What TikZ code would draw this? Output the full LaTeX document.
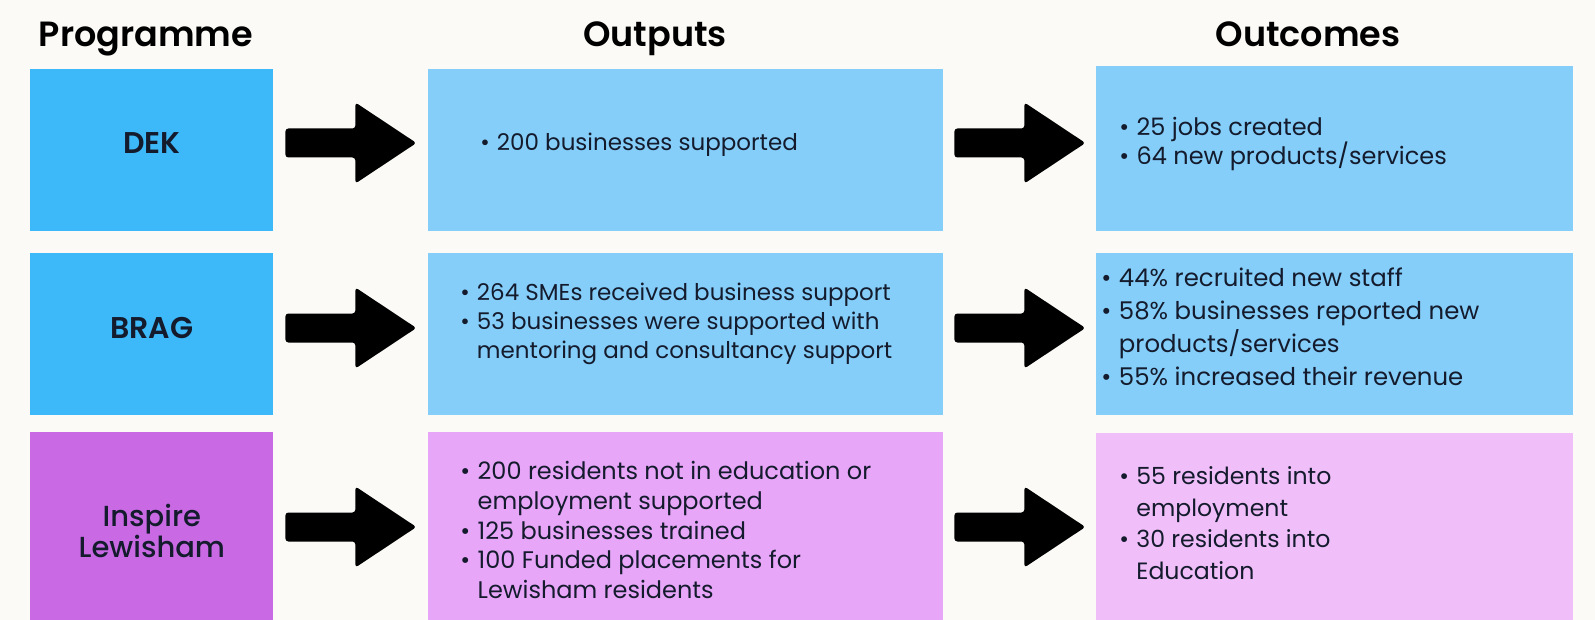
\documentclass[tikz,border=0pt]{standalone}
\usepackage{fontspec}
\setmainfont{Poppins}[BoldFont={Poppins SemiBold}]
\newfontfamily\mediumfont{Poppins Medium}
\usepackage{tikz}
\usetikzlibrary{calc}

\definecolor{pagebg}{HTML}{FBFAF6}
\definecolor{textdark}{HTML}{141B2D}
\definecolor{progblue}{HTML}{3DB9FA}
\definecolor{paleblue}{HTML}{85CEF9}
\definecolor{progpurple}{HTML}{C96AE4}
\definecolor{midpurple}{HTML}{E8A6F9}
\definecolor{palepurple}{HTML}{F0BEF9}

\tikzset{
    panel/.style={draw=none, inner sep=0pt, anchor=north west},
    heading/.style={font=\fontsize{17.5}{20}\selectfont\bfseries, text=black, anchor=base, inner sep=0pt},
    proglabel/.style={font=\fontsize{15}{17.5}\selectfont\bfseries, text=textdark, align=center, inner sep=0pt},
    bullets/.style={font=\fontsize{11.5}{14.5}\selectfont, text=textdark, align=left, anchor=west, inner sep=0pt},
    arrowfill/.style={fill=black, rounded corners=1.5pt}
}

\newcommand*{\Item}{\makebox[0.72em][l]{\textbullet}}
\newcommand*{\Cont}{\hspace*{0.72em}}

\newcommand*{\PanelBox}[6]{% #1 = colour, #2 = name, #3 = x, #4 = top, #5 = width, #6 = height
\node [panel, fill=#1, minimum width=#5*0.5pt, minimum height=#6*0.5pt] (#2) at (#3,#4) {};
}

\newcommand*{\BlockArrow}[3]{% #1 = from, #2 = to, #3 = row
\coordinate (mid) at ($(#1.east)!0.5!(#2.west)$);
\fill [arrowfill] ($(mid |- #3)+(-65.5,-14.5)$) -- ++(70,0) -- ++(0,-26)
    -- ++(61,40.5) -- ++(-61,40.5) -- ++(0,-26) -- ++(-70,0) -- cycle;
}

\begin{document}
\begin{tikzpicture}[x=0.5pt, y=-0.5pt]

            \useasboundingbox (0,0) rectangle (1595,620);
            \fill [pagebg] (0,0) rectangle (1595,620);

            \node [heading] (hprog) at (146,47) {Programme};
            \node [heading] (hout) at (655,47) {Outputs};
            \node [heading] (hres) at (1308,47) {Outcomes};

            \coordinate (r1) at (0,143);
            \coordinate (r2) at (0,328);
            \coordinate (r3) at (0,527);

            % boxes
            \PanelBox{progblue}{dek}{30}{69}{243}{162}
            \PanelBox{paleblue}{dekout}{428}{69}{515}{162}
            \PanelBox{paleblue}{dekres}{1096}{66}{477}{165}
            \PanelBox{progblue}{brag}{30}{253}{243}{162}
            \PanelBox{paleblue}{bragout}{428}{253}{515}{162}
            \PanelBox{paleblue}{bragres}{1096}{253}{477}{162}
            \PanelBox{progpurple}{insp}{30}{432}{243}{200}
            \PanelBox{midpurple}{inspout}{428}{432}{515}{200}
            \PanelBox{palepurple}{inspres}{1096}{433}{477}{200}

            % arrows
            \BlockArrow{dek}{dekout}{r1}
            \BlockArrow{dekout}{dekres}{r1}
            \BlockArrow{brag}{bragout}{r2}
            \BlockArrow{bragout}{bragres}{r2}
            \BlockArrow{insp}{inspout}{r3}
            \BlockArrow{inspout}{inspres}{r3}

            % programme names
            \node [proglabel] (dektext) at (dek |- r1) {DEK};
            \node [proglabel] (bragtext) at (brag |- r2) {BRAG};
            \node [proglabel, font=\fontsize{14.5}{15.5}\selectfont\mediumfont] (insptext) at ($(insp |- r3)+(0,4)$) {Inspire\\Lewisham};

            % outputs and outcomes
            \node [bullets] (dekouttext) at (480,145) {\Item 200 businesses supported};
            \node [bullets, font=\fontsize{12}{14.5}\selectfont] (dekrestext) at (1119,144) {\Item 25 jobs created\\
                \Item 64 new products/services};
            \node [bullets] (bragouttext) at (460,324) {\Item 264 SMEs received business support\\
                \Item 53 businesses were supported with\\
                \Cont mentoring and consultancy support};
            \node [bullets, font=\fontsize{12.2}{16.5}\selectfont] (bragrestext) at (1101,327) {\Item 44\% recruited new staff\\
                \Item 58\% businesses reported new\\
                \Cont products/services\\
                \Item 55\% increased their revenue};
            \node [bullets, font=\fontsize{12}{14.8}\selectfont] (inspouttext) at (460,530) {\Item 200 residents not in education or\\
                \Cont employment supported\\
                \Item 125 businesses trained\\
                \Item 100 Funded placements for\\
                \Cont Lewisham residents};
            \node [bullets, font=\fontsize{11.8}{15.8}\selectfont] (insprestext) at (1119,523) {\Item 55 residents into\\
                \Cont employment\\
                \Item 30 residents into\\
                \Cont Education};

        \end{tikzpicture}
\end{document}
